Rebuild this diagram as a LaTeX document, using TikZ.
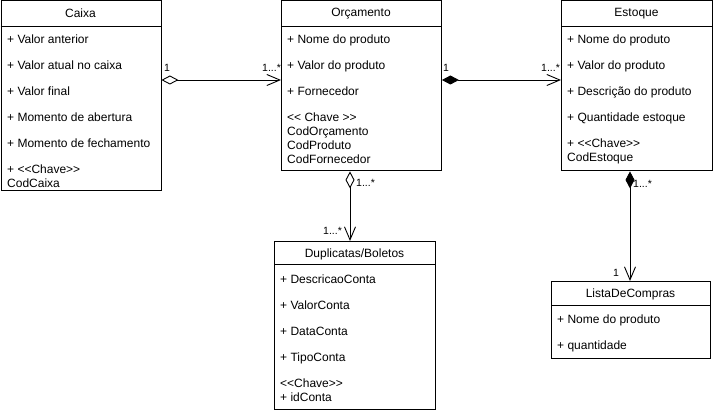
\documentclass[tikz,border=0pt]{standalone}
\usepackage{fontspec}
\setmainfont{Liberation Sans}
\usetikzlibrary{arrows.meta,calc}
\newcommand\ltlt{<\kern0pt<}
\newcommand\gtgt{>\kern0pt>}
\begin{document}
\begin{tikzpicture}[x=1pt,y=-1pt,
  umlbox/.style={draw, line width=0.9pt, fill=white, rectangle, anchor=north west, inner sep=0pt},
  attr/.style={anchor=base west, inner sep=0pt, font=\fontsize{12}{14}\selectfont},
  ttl/.style={anchor=center, inner sep=0pt, font=\fontsize{12}{14}\selectfont},
  lbl/.style={anchor=base west, inner sep=0pt, font=\fontsize{10.5}{12}\selectfont},
  conn/.style={line width=0.9pt, line join=miter},
  odia/.tip={Diamond[open,length=17pt,width=9pt]},
  fdia/.tip={Diamond[length=17pt,width=9pt]},
  barb/.tip={Straight Barb[length=13pt,width=11pt,line width=0.9pt]}
]
\useasboundingbox (0,0) rectangle (721,414);
\fill[white] (0,0) rectangle (721,414);

% Caixa
\node[umlbox, minimum width=160pt, minimum height=190pt] (caixa) at (0.5,0.5) {};
\draw[line width=0.9pt] ($(caixa.north west)+(0,26)$) -- ($(caixa.north east)+(0,26)$);
\node[ttl] (caixat) at (80.5,13.5) {Caixa};
\node[attr] (c1) at (7,44) {+ Valor anterior};
\node[attr] (c2) at (7,70) {+ Valor atual no caixa};
\node[attr] (c3) at (7,96) {+ Valor final};
\node[attr] (c4) at (7,122) {+ Momento de abertura};
\node[attr] (c5) at (7,148) {+ Momento de fechamento};
\node[attr] (c6) at (7,174) {+ \ltlt Chave\gtgt};
\node[attr] (c7) at (7,188) {CodCaixa};

% Orcamento
\node[umlbox, minimum width=160pt, minimum height=170pt] (orc) at (281,0.5) {};
\draw[line width=0.9pt] ($(orc.north west)+(0,26)$) -- ($(orc.north east)+(0,26)$);
\node[ttl] (orct) at (361,13.5) {Orçamento};
\node[attr] (o1) at (287,44) {+ Nome do produto};
\node[attr] (o2) at (287,70) {+ Valor do produto};
\node[attr] (o3) at (287,96) {+ Fornecedor};
\node[attr] (o4) at (287,122) {\ltlt{} Chave \gtgt};
\node[attr] (o5) at (287,136) {CodOrçamento};
\node[attr] (o6) at (287,150) {CodProduto};
\node[attr] (o7) at (287,164) {CodFornecedor};

% Estoque
\node[umlbox, minimum width=151pt, minimum height=170pt] (est) at (561,0.5) {};
\draw[line width=0.9pt] ($(est.north west)+(0,26)$) -- ($(est.north east)+(0,26)$);
\node[ttl] (estt) at (636.5,13.5) {Estoque};
\node[attr] (e1) at (567,44) {+ Nome do produto};
\node[attr] (e2) at (567,70) {+ Valor do produto};
\node[attr] (e3) at (567,96) {+ Descrição do produto};
\node[attr] (e4) at (567,122) {+ Quantidade estoque};
\node[attr] (e5) at (567,148) {+ \ltlt Chave\gtgt};
\node[attr] (e6) at (567,162) {CodEstoque};

% Duplicatas
\node[umlbox, minimum width=161pt, minimum height=168pt] (dup) at (274,241) {};
\draw[line width=0.9pt] ($(dup.north west)+(0,23)$) -- ($(dup.north east)+(0,23)$);
\node[ttl] (dupt) at (354.5,254) {Duplicatas/Boletos};
\node[attr] (d1) at (280,284) {+ DescricaoConta};
\node[attr] (d2) at (280,310) {+ ValorConta};
\node[attr] (d3) at (280,336) {+ DataConta};
\node[attr] (d4) at (280,362) {+ TipoConta};
\node[attr] (d5) at (280,388) {\ltlt Chave\gtgt};
\node[attr] (d6) at (280,401) {+ idConta};

% ListaDeCompras
\node[umlbox, minimum width=159pt, minimum height=77pt] (lista) at (551,281) {};
\draw[line width=0.9pt] ($(lista.north west)+(0,24)$) -- ($(lista.north east)+(0,24)$);
\node[ttl] (listat) at (630.5,294) {ListaDeCompras};
\node[attr] (l1) at (557,324) {+ Nome do produto};
\node[attr] (l2) at (557,350) {+ quantidade};

% Connectors
\draw[conn, odia-barb] ($(caixa.north east)+(0,79.5)$) -- ($(orc.north west)+(0,79.5)$);
\draw[conn, fdia-barb] ($(orc.north east)+(0,79.5)$) -- ($(est.north west)+(0,79.5)$);
\draw[conn, odia-barb] ($(orc.south west)+(69,0)$) -- ($(dup.north west)+(76,0)$);
\draw[conn, fdia-barb] ($(est.south west)+(69,0)$) -- ($(lista.north west)+(79,0)$);

% Multiplicities
\node[lbl] (m1) at (164,72) {1};
\node[lbl] (m2) at (262,72) {1...*};
\node[lbl] (m3) at (443,72) {1};
\node[lbl] (m4) at (541,72) {1...*};
\node[lbl] (m5) at (356,187) {1...*};
\node[lbl] (m6) at (323,235) {1...*};
\node[lbl] (m7) at (633,188) {1...*};
\node[lbl] (m8) at (613,277) {1};
\end{tikzpicture}
\end{document}
